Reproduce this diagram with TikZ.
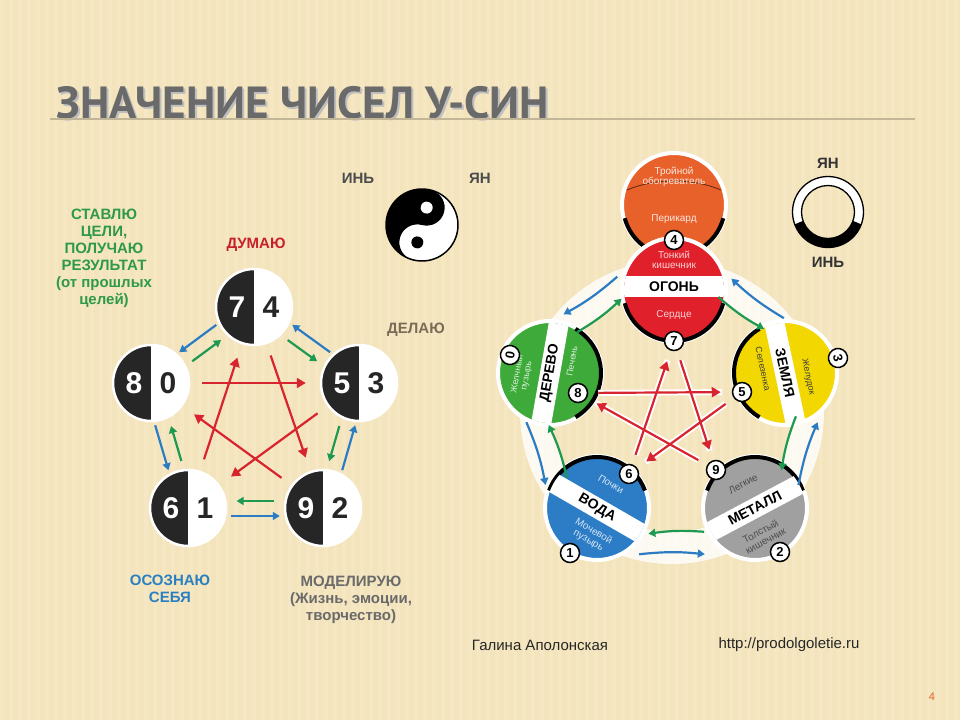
\documentclass[tikz,border=0pt]{standalone}
\usepackage{fontspec}
\setmainfont{Liberation Sans}
\newfontfamily\titlefont{PT Sans}
\usetikzlibrary{calc,arrows.meta}
\definecolor{bg}{HTML}{F4E4BC}
\definecolor{tgrey}{HTML}{6A6A6A}
\definecolor{lgreen}{HTML}{2E9A48}
\definecolor{lred}{HTML}{C8202A}
\definecolor{lblue}{HTML}{2A7FC0}
\definecolor{lbrown}{HTML}{7A6A58}
\definecolor{arrg}{HTML}{1E9A50}
\definecolor{arrb}{HTML}{2C7CC4}
\definecolor{arrr}{HTML}{D8242E}
\definecolor{orng}{HTML}{E8612A}
\definecolor{fire}{HTML}{E0202A}
\definecolor{wood}{HTML}{3DAA3A}
\definecolor{earth}{HTML}{F2D800}
\definecolor{water}{HTML}{2C7DC6}
\definecolor{metal}{HTML}{A0A0A0}
\tikzset{
 lab/.style={font=\bfseries\fontsize{15}{17}\selectfont,align=center},
 halfc/.style={circle,minimum size=76,inner sep=0,draw=white,line width=2.5,fill=white,
   path picture={\fill[black!85] (path picture bounding box.south west) rectangle (path picture bounding box.north);}},
 num/.style={font=\bfseries\fontsize{30}{30}\selectfont},
 garr/.style={arrg,line width=2.2,-{Triangle[length=7,width=8]}},
 barr/.style={arrb,line width=2.2,-{Triangle[length=7,width=8]}},
 rarr/.style={arrr,line width=2.2,-{Triangle[length=9,width=10]}},
 rarrw/.style={white,line width=6},
 elem/.style={circle,minimum size=104,inner sep=0,draw=white,line width=4},
 badge/.style={circle,fill=white,draw=black,line width=1.5,minimum size=19,inner sep=0,font=\bfseries\fontsize{13}{13}\selectfont},
 sub/.style={font=\fontsize{10}{10.5}\selectfont,align=center},
 band/.style={font=\bfseries\fontsize{14}{14}\selectfont},
}
\newcommand\pairarr[2]{%
 \draw[garr] ($(#1)!0.36!(#2)!7pt!-90:(#2)$) -- ($(#1)!0.64!(#2)!7pt!-90:(#2)$);
 \draw[barr] ($(#1)!0.68!(#2)!8pt!90:(#2)$) -- ($(#1)!0.32!(#2)!8pt!90:(#2)$);}
\newcommand\ringarr[1]{%
 \draw[garr] ($(rc)+(#1-14:124)$) to[bend right=6] ($(rc)+(#1+12:124)$);
 \draw[barr] ($(rc)+(#1+14:146)$) to[bend left=6] ($(rc)+(#1-12:146)$);}
\begin{document}
\begin{tikzpicture}[x=1pt,y=-1pt]
\useasboundingbox (0,0) rectangle (960,720);
\fill[bg] (0,0) rectangle (960,720);
\foreach \x in {0,9,...,960} \fill[white,opacity=0.13] (\x,0) rectangle ++(4,720);
% title
\node[font=\titlefont\bfseries\fontsize{45}{45}\selectfont,text=black!25,anchor=west] at (55,105) {ЗНАЧЕНИЕ ЧИСЕЛ У-СИН};
\node[font=\titlefont\bfseries\fontsize{45}{45}\selectfont,text=tgrey,anchor=west] (title) at (53,103) {ЗНАЧЕНИЕ ЧИСЕЛ У-СИН};
\draw[black!20!bg,line width=1.2] (50,119) -- (915,119);
% left labels
\node[lab,text=lgreen] (lg) at (104,258) {СТАВЛЮ\\ЦЕЛИ,\\ПОЛУЧАЮ\\РЕЗУЛЬТАТ\\(от прошлых\\целей)};
\node[lab,text=lred] (ld) at (256,245) {ДУМАЮ};
\node[lab,text=lbrown] (ldel) at (416,330) {ДЕЛАЮ};
\node[lab,text=lblue] (los) at (170,589) {ОСОЗНАЮ\\СЕБЯ};
\node[lab,text=tgrey] (lm) at (351,600) {МОДЕЛИРУЮ\\(Жизнь, эмоции,\\творчество)};
\node[lab,text=black!70] (yin) at (358,178) {ИНЬ};
\node[lab,text=black!70] (yan) at (480,178) {ЯН};
% yin yang
\begin{scope}[shift={(422,225)},y=1pt,rotate=-15]
 \fill[white] (0,0) circle (36);
 \fill[black] (0,36) arc[start angle=90,end angle=270,radius=36]
   arc[start angle=-90,end angle=-270,radius=18]
   arc[start angle=-90,end angle=90,radius=18] -- cycle;
 \draw[black,line width=1.5] (0,0) circle (36);
 \fill[white] (0,18) circle (6);
 \fill[black] (0,-18) circle (6);
\end{scope}
% left circles
\node[halfc] (c7) at (254,307) {};
\node[halfc] (c5) at (359,383) {};
\node[halfc] (c9) at (323,508) {};
\node[halfc] (c6) at (188,508) {};
\node[halfc] (c8) at (151,383) {};
\foreach \n/\a/\b in {c7/7/4,c5/5/3,c9/9/2,c6/6/1,c8/8/0}{
 \node[num,text=white] at ($(\n)+(-17,0)$) {\a};
 \node[num,text=black!85] at ($(\n)+(17,0)$) {\b};}
\pairarr{c7}{c5}\pairarr{c5}{c9}\pairarr{c9}{c6}\pairarr{c6}{c8}\pairarr{c8}{c7}
\foreach \a/\b in {c7/c9,c9/c8,c8/c5,c5/c6,c6/c7}
 \draw[rarr,shorten <=12,shorten >=14] (\a) -- (\b);
% yan/yin ring
\node[lab,text=black!80] (yan2) at (828,163) {ЯН};
\node[lab,text=black!80] (yin2) at (828,262) {ИНЬ};
\draw[white,line width=9] (828,212) circle (31);
\draw[black,line width=9] ($(828,212)+(160:31)$) arc[start angle=160,end angle=20,radius=31];
\draw[black,line width=1.3] (828,212) circle (35.5) (828,212) circle (26.5);
% right ring
\coordinate (rc) at (672,412);
\draw[white,line width=32,opacity=0.8] (rc) circle (136);
% top orange
\node[elem,fill=orng] (tr) at (674,205) {};
\draw[black,line width=4] ($(tr)+(15:51)$) arc[start angle=15,end angle=165,radius=51];
\draw[black!60!orng,line width=0.8] (627,190) .. controls (655,178) and (693,178) .. (721,190);
\node[sub,text=white!85!orng] at (674,177) {Тройной\\обогреватель};
\node[sub,text=white!85!orng] at (674,219) {Перикард};
% fire
\node[elem,fill=fire] (fire) at (674,290) {};
\draw[black,line width=4] ($(fire)+(15:51)$) arc[start angle=15,end angle=165,radius=51];
\begin{scope}\clip (fire) circle (50);
 \fill[white] (620,276) rectangle (730,297);\end{scope}
\node[band] at (674,287) {ОГОНЬ};
\node[sub,text=white!80!fire] at (674,260) {Тонкий\\кишечник};
\node[sub,text=white!80!fire] at (674,315) {Сердце};
% wood
\node[elem,fill=wood] (wood) at (550,373) {};
\draw[black,line width=4] ($(wood)+(-60:51)$) arc[start angle=-60,end angle=60,radius=51];
\begin{scope}\clip (wood) circle (50);
 \fill[white,rotate around={80:(wood)}] ($(wood)+(-60,-10)$) rectangle ($(wood)+(60,10)$);\end{scope}
\node[band,rotate=80] at (wood) {ДЕРЕВО};
\node[sub,rotate=80,text=white!80!wood,font=\fontsize{9}{9.5}\selectfont] at ($(wood)+(-28,2)$) {Желчный\\пузырь};
\node[sub,rotate=80,text=white!80!wood,font=\fontsize{9}{9.5}\selectfont] at ($(wood)+(22,-12)$) {Печень};
% earth
\node[elem,fill=earth] (earth) at (785,373) {};
\draw[black,line width=4] ($(earth)+(120:51)$) arc[start angle=120,end angle=240,radius=51];
\begin{scope}\clip (earth) circle (50);
 \fill[white,rotate around={-78:(earth)}] ($(earth)+(-60,-10)$) rectangle ($(earth)+(60,10)$);\end{scope}
\node[band,rotate=-78] at (earth) {ЗЕМЛЯ};
\node[sub,rotate=-78,text=black!75,font=\fontsize{9}{9.5}\selectfont] at ($(earth)+(-22,-4)$) {Селезенка};
\node[sub,rotate=-78,text=black!75,font=\fontsize{9}{9.5}\selectfont] at ($(earth)+(23,4)$) {Желудок};
% water
\node[elem,fill=water] (water) at (597,508) {};
\draw[black,line width=4] ($(water)+(-160:51)$) arc[start angle=-160,end angle=-20,radius=51];
\begin{scope}\clip (water) circle (50);
 \fill[white,rotate around={-30:(water)}] ($(water)+(-60,-10)$) rectangle ($(water)+(60,10)$);\end{scope}
\node[band,rotate=-30] at (water) {ВОДА};
\node[sub,rotate=-30,text=white!80!water] at ($(water)+(14,-24)$) {Почки};
\node[sub,rotate=-30,text=white!80!water] at ($(water)+(-6,28)$) {Мочевой\\пузырь};
% metal
\node[elem,fill=metal] (metal) at (755,508) {};
\draw[black,line width=4] ($(metal)+(-160:51)$) arc[start angle=-160,end angle=-20,radius=51];
\begin{scope}\clip (metal) circle (50);
 \fill[white,rotate around={28:(metal)}] ($(metal)+(-60,-10)$) rectangle ($(metal)+(60,10)$);\end{scope}
\node[band,rotate=28] at (metal) {МЕТАЛЛ};
\node[sub,rotate=28,text=black!70] at ($(metal)+(-12,-24)$) {Легкие};
\node[sub,rotate=28,text=black!70] at ($(metal)+(8,28)$) {Толстый\\кишечник};
% ring arrows
\ringarr{-54}\ringarr{16}\ringarr{89}\ringarr{162}\ringarr{234}
% badges
\node[badge] (b4) at (674,240) {4};
\node[badge] (b7) at (674,341) {7};
\node[badge,rotate=80] (b0) at (510,355) {0};
\node[badge] (b8) at (578,393) {8};
\node[badge,rotate=-78] (b3) at (838,358) {3};
\node[badge] (b5) at (742,392) {5};
\node[badge] (b6) at (629,474) {6};
\node[badge] (b1) at (570,553) {1};
\node[badge] (b9) at (716,470) {9};
\node[badge] (b2) at (780,552) {2};
% right star
\foreach \a/\b in {b7/b9,b9/b8,b8/b5,b5/b6,b6/b7}{
 \draw[rarrw,shorten <=10,shorten >=10] (\a) -- (\b);}
\foreach \a/\b in {b7/b9,b9/b8,b8/b5,b5/b6,b6/b7}{
 \draw[rarr,shorten <=10,shorten >=11] (\a) -- (\b);}
% footer
\node[font=\fontsize{15}{15}\selectfont,text=black!85] (auth) at (540,645) {Галина Аполонская};
\node[font=\fontsize{15}{15}\selectfont,text=black!85] (url) at (789,645) {http://prodolgoletie.ru};
\node[font=\fontsize{11}{11}\selectfont,text=orng] (pg) at (932,697) {4};
\end{tikzpicture}
\end{document}
